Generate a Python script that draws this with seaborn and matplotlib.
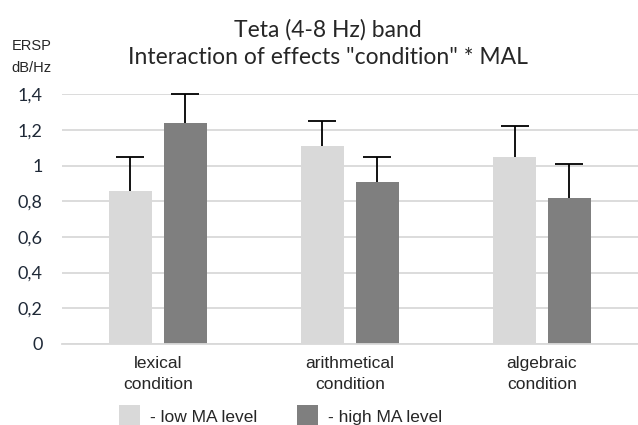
import matplotlib
matplotlib.use('Agg')
import matplotlib.pyplot as plt
import seaborn as sns
import pandas as pd
from matplotlib.ticker import FuncFormatter

conditions = ['lexical\ncondition', 'arithmetical\ncondition', 'algebraic\ncondition']
levels = ['- low MA level', '- high MA level']
low_ma = [0.86, 1.11, 1.05]
high_ma = [1.24, 0.91, 0.82]
low_ma_err = [0.19, 0.14, 0.17]
high_ma_err = [0.16, 0.14, 0.19]
yticks = [0, 0.2, 0.4, 0.6, 0.8, 1.0, 1.2, 1.4]

palette = {levels[0]: '#d9d9d9', levels[1]: '#7f7f7f'}

df = pd.DataFrame({
    'condition': conditions * 2,
    'level': [levels[0]] * 3 + [levels[1]] * 3,
    'ersp': low_ma + high_ma,
    'err': low_ma_err + high_ma_err,
})

sns.set_style('white')
plt.rcParams['font.family'] = ['Lato', 'DejaVu Sans']
arial = ['Liberation Sans', 'DejaVu Sans']

fig = plt.figure(figsize=(6.38, 4.25), dpi=100)
ax = fig.add_axes([0.097, 0.191, 0.903, 0.587])

sns.barplot(data=df, x='condition', y='ersp', hue='level', order=conditions,
            hue_order=levels, palette=palette, width=0.572, gap=0.22,
            errorbar=None, saturation=1, linewidth=0, ax=ax)

# upper-only error bars, placed on the bars seaborn drew
handles, labels = ax.get_legend_handles_labels()
ax.get_legend().remove()
bars = [p for p in ax.patches if p.get_height() > 0]
bars = sorted(bars, key=lambda p: p.get_x())
errs = []
for cond in conditions:
    for lvl in levels:
        errs.append(df.loc[(df.condition == cond) & (df.level == lvl), 'err'].iloc[0])
for b, e in zip(bars, errs):
    _, caps, _ = ax.errorbar(b.get_x() + b.get_width() / 2, b.get_height(), yerr=[[0], [e]],
                             color='black', elinewidth=1.3, capsize=10, capthick=1.3,
                             clip_on=False, zorder=5)
    caps[0].remove()  # no cap at the bar top

ax.set_xlim(-0.5, len(conditions) - 0.5)
ax.set_ylim(0, 1.4)
ax.set_yticks(yticks)
ax.yaxis.set_major_formatter(FuncFormatter(lambda v, p: f'{v:g}'.replace('.', ',')))
ax.grid(axis='y', color='#d9d9d9', linewidth=1.3)
ax.set_axisbelow(True)
for s in ['top', 'right', 'left']:
    ax.spines[s].set_visible(False)
ax.spines['bottom'].set_color('#d9d9d9')
ax.spines['bottom'].set_linewidth(1.3)
ax.tick_params(axis='y', length=0, pad=14, labelsize=13, labelcolor='#1f2937')
ax.tick_params(axis='x', length=0, pad=9)
for t in ax.get_xticklabels():
    t.set_fontfamily(arial)
    t.set_fontsize(12.5)
    t.set_color('#262626')
    t.set_linespacing(1.45)
ax.set_xlabel('')
ax.set_ylabel('')

fig.text(0.514, 0.93, 'Teta (4-8 Hz) band', ha='center', va='center', fontsize=16.5, color='#262626')
fig.text(0.514, 0.864, 'Interaction of effects "condition" * MAL', ha='center', va='center',
         fontsize=16.5, color='#262626')
fig.text(0.05, 0.865, 'ERSP\ndB/Hz', ha='center', va='center', fontsize=10.5,
         family=arial, color='#262626', linespacing=1.75)

fig.legend(handles, labels, loc='center', bbox_to_anchor=(0.44, 0.02), ncol=2,
           frameon=False, handlelength=1.2, handleheight=1.6, handletextpad=0.6,
           columnspacing=2.3, prop={'family': arial, 'size': 12.5})

fig.savefig('out.png', dpi=100)
